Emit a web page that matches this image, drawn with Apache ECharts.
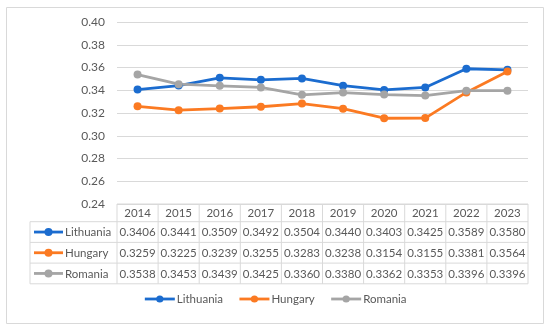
<!DOCTYPE html>
<html><head><meta charset="utf-8">
<script src="https://cdn.jsdelivr.net/npm/echarts@6/dist/echarts.min.js"></script>
<style>html,body{margin:0;padding:0;background:#fff}#c{width:550px;height:332px}</style>
</head><body><div id="c"></div>
<script>
const years = ['2014','2015','2016','2017','2018','2019','2020','2021','2022','2023'];
const lithuania = [0.3406,0.3441,0.3509,0.3492,0.3504,0.3440,0.3403,0.3425,0.3589,0.3580];
const hungary   = [0.3259,0.3225,0.3239,0.3255,0.3283,0.3238,0.3154,0.3155,0.3381,0.3564];
const romania   = [0.3538,0.3453,0.3439,0.3425,0.3360,0.3380,0.3362,0.3353,0.3396,0.3396];
const seriesNames = ['Lithuania','Hungary','Romania'];
const seriesData = [lithuania, hungary, romania];
const colors = ['#1b6ccf','#fb7a22','#a5a5a5'];
const yMin = 0.24, yMax = 0.40, yStep = 0.02;

const FONT = 'Lato, "Liberation Sans", sans-serif';
const TXT = '#595959';
const LINE = '#d9d9d9';

const chart = echarts.init(document.getElementById('c'), null, {renderer:'canvas'});
chart.setOption({
  animation:false,
  color: colors,
  grid:{left:117, right:22, top:22, bottom:128},
  xAxis:{type:'category', data:years, boundaryGap:true,
    axisLine:{show:false}, axisTick:{show:false}, axisLabel:{show:false}},
  yAxis:{type:'value', min:yMin, max:yMax, interval:yStep,
    axisLine:{show:false}, axisTick:{show:false},
    splitLine:{lineStyle:{color:LINE, width:1}},
    axisLabel:{color:TXT, fontFamily:FONT, fontSize:12, margin:12,
      formatter:v=>v.toFixed(2)}},
  legend:{bottom:22, left:'center', itemWidth:30, itemHeight:9, itemGap:15,
    lineStyle:{width:2.8},
    textStyle:{color:TXT, fontFamily:FONT, fontSize:11.5, padding:[0,0,0,-3]}, data:seriesNames},
  series: seriesNames.map((n,i)=>({name:n, type:'line', data:seriesData[i],
    symbol:'circle', symbolSize:8, lineStyle:{width:2.8},
    itemStyle:{color:colors[i]}}))
});

// data table built from arrays using the axis scale
const centers = years.map((y)=>chart.convertToPixel({xAxisIndex:0}, y));
const colW = centers[1]-centers[0];
const x0 = centers[0]-colW/2, x1 = centers[centers.length-1]+colW/2;
const yTop = chart.convertToPixel({yAxisIndex:0}, yMin);
const hdrH = 17.7, rowH = 20.7;
const keyX0 = 30;
const els = [];
const ln = (xa,ya,xb,yb)=>els.push({type:'line', shape:{x1:xa,y1:ya,x2:xb,y2:yb}, style:{stroke:LINE, lineWidth:1}, silent:true});
const rowTops = [yTop + hdrH, yTop + hdrH + rowH, yTop + hdrH + 2*rowH];
const yBot = yTop + hdrH + 3*rowH;
ln(x0, yTop, x1, yTop);
ln(keyX0, rowTops[0], x1, rowTops[0]);
ln(keyX0, rowTops[1], x1, rowTops[1]);
ln(keyX0, rowTops[2], x1, rowTops[2]);
ln(keyX0, yBot, x1, yBot);
ln(keyX0, rowTops[0], keyX0, yBot);
for (let i=0;i<=years.length;i++){ const x=x0+i*colW; ln(x, yTop, x, yBot); }
years.forEach((y,i)=>els.push({type:'text', style:{text:y, x:centers[i], y:yTop+hdrH/2+0.5, align:'center', verticalAlign:'middle', fill:TXT, font:'11.5px '+FONT}, silent:true}));
seriesNames.forEach((n,r)=>{
  const cy = rowTops[r]+rowH/2;
  els.push({type:'line', shape:{x1:keyX0+4,y1:cy,x2:keyX0+33,y2:cy}, style:{stroke:colors[r], lineWidth:2.8}, silent:true});
  els.push({type:'circle', shape:{cx:keyX0+18.5, cy:cy, r:4}, style:{fill:colors[r]}, silent:true});
  els.push({type:'text', style:{text:n, x:keyX0+35, y:cy+0.5, align:'left', verticalAlign:'middle', fill:TXT, font:'11.5px '+FONT}, silent:true});
  seriesData[r].forEach((v,i)=>els.push({type:'text', style:{text:v.toFixed(4), x:centers[i], y:cy+0.5, align:'center', verticalAlign:'middle', fill:TXT, font:'11.5px '+FONT}, silent:true}));
});
els.push({type:'rect', shape:{x:6.5,y:7.5,width:537,height:316}, style:{fill:'none', stroke:LINE, lineWidth:1}, silent:true, z:-1});
chart.setOption({graphic:{elements:els}});
</script></body></html>
